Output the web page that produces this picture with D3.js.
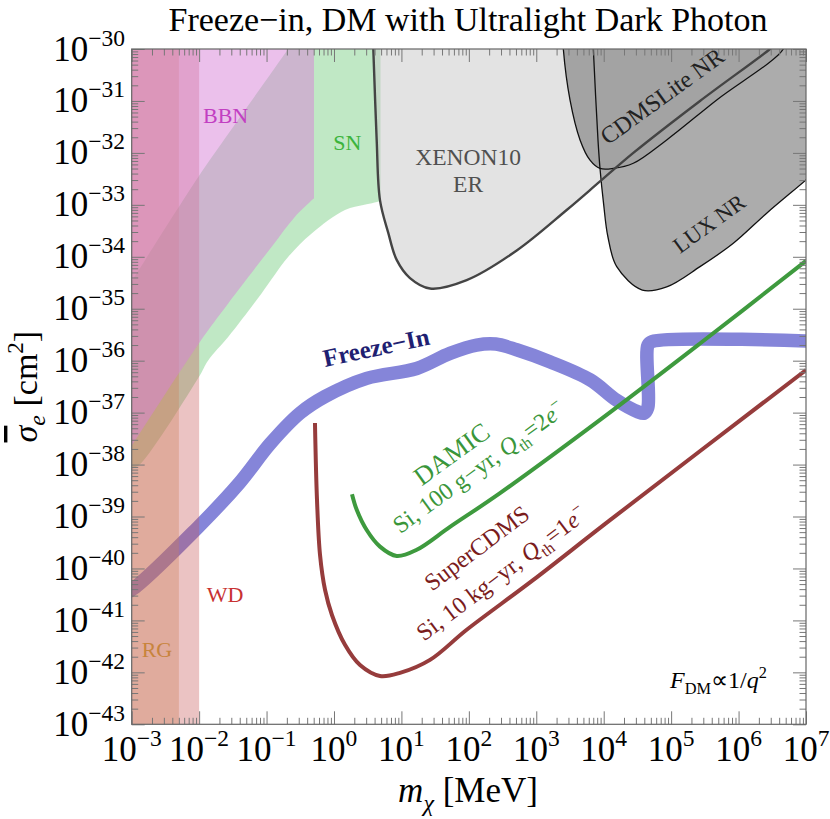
<!DOCTYPE html>
<html lang="en">
<head>
<meta charset="UTF-8">
<title>Freeze-in, DM with Ultralight Dark Photon</title>
<script src="https://cdn.jsdelivr.net/npm/d3@7"></script>
<style>
  body { margin: 0; background: #fff; }
  svg text { font-family: "Liberation Serif", "Times New Roman", serif; }
</style>
</head>
<body>
<div id="chart"></div>
<script>
// tick exponents
const xExps = d3.range(-3, 8);
const yExps = d3.range(-43, -29);

// all curves: [log10(m / MeV), log10(sigma_e / cm^2)]
const snUpper = [[-3.1, -34.68], [-3, -34.47], [-2.8, -34.06], [-2.01, -32.46], [-1.62, -31.73], [-0.68, -30], [-0.6, -29.85]];
const snLower = [[0.69, -32.93], [0.45, -33.0], [0.163, -33.1], [-0.331, -33.55], [-0.678, -34.0], [-1.072, -34.7], [-1.567, -35.54],
                 [-1.864, -35.99], [-2.002, -36.31], [-2.858, -37.97], [-3, -38.1], [-3.1, -38.3]];
const bbnLower = [[-0.296, -32.874], [-0.578, -33.228], [-0.924, -33.806], [-1.567, -34.895], [-2.002, -35.665], [-3, -37.64], [-3.1, -37.84]];
const bbnMax = -0.296;
const snMax = 0.69;
const rgMax = -2.3;
const wdMax = -2;

const xenon10 = [[0.575, -29.8], [0.583, -30], [0.633, -31.75], [0.682, -32.91], [0.805, -33.54], [0.93, -34.06], [1.127, -34.41],
                 [1.424, -34.61], [1.968, -34.45], [2.71, -33.88], [3.451, -33.1], [3.945, -32.55], [4.439, -32.0], [5.428, -31.0],
                 [6.466, -30], [6.55, -29.9]];
const lux = [[3.84, -29.8], [3.846, -30], [3.915, -31.75], [3.945, -32.3], [4.0, -33.0], [4.06, -33.6], [4.193, -34.19], [4.572, -34.64],
             [4.934, -34.58], [5.428, -34.19], [5.922, -33.74], [6.417, -33.16], [7, -32.52], [7.1, -32.4]];
const cdmsLite = [[3.395, -29.8], [3.401, -30], [3.5, -30.98], [3.649, -31.75], [3.797, -32.14], [3.945, -32.3], [4.142, -32.3],
                  [4.439, -32.2], [4.934, -31.75], [5.676, -30.98], [6.663, -30], [6.68, -29.8]];

const freezeIn = [[-3.2, -40.53], [-3, -40.41], [-2.012, -39.2], [-1.4, -38.35], [-0.947, -37.6], [-0.504, -37.01], [-0.133, -36.69],
                  [0.485, -36.34], [1.227, -36.15], [1.72, -35.86], [2.116, -35.7], [2.4, -35.68], [2.71, -35.79], [3.2, -36.02],
                  [3.8, -36.37], [4.19, -36.76], [4.5, -36.98], [4.6, -37.01], [4.655, -36.9], [4.657, -35.7], [4.72, -35.63], [7.2, -35.63]];
const damic = [[0.267, -38.57], [0.337, -38.87], [0.485, -39.26], [0.682, -39.58], [0.93, -39.76], [1.227, -39.64], [1.72, -39.2],
               [2.462, -38.55], [3.945, -37.14], [5.428, -35.67], [7, -34.08]];
const superCdms = [[-0.282, -37.2], [-0.252, -38.68], [-0.207, -39.74], [-0.133, -40.41], [-0.029, -40.9], [0.163, -41.47], [0.386, -41.86],
                   [0.682, -42.07], [0.979, -42.01], [1.424, -41.76], [1.968, -41.18], [2.956, -40.22], [4.093, -39.07], [7, -36.18]];

const width = 830, height = 819;
const box = {left: 131.7, right: 806, top: 49, bottom: 724.3};

const svg = d3.select('#chart').append('svg')
    .attr('width', width)
    .attr('height', height);

const x = d3.scaleLog().domain([1e-3, 1e7]).range([box.left, box.right]);
const y = d3.scaleLog().domain([1e-43, 1e-30]).range([box.bottom, box.top]);
const px = d => x(Math.pow(10, d[0]));
const py = d => y(Math.pow(10, d[1]));

const smooth = d3.line().x(px).y(py).curve(d3.curveCatmullRom.alpha(0.5));
const lineTo = pts => pts.map(d => `L${px(d)},${py(d)}`).join('');
// closed region: smooth curve + straight corners
const region = (curve, corners) => smooth(curve) + lineTo(corners) + 'Z';

svg.append('clipPath').attr('id', 'plot')
    .append('rect').attr('x', box.left).attr('y', box.top)
    .attr('width', box.right - box.left).attr('height', box.bottom - box.top);

const g = svg.append('g').attr('clip-path', 'url(#plot)');

// Freeze-in band (under the bounds)
g.append('path')
    .attr('d', smooth(freezeIn))
    .attr('fill', 'none')
    .attr('stroke', '#8585d9')
    .attr('stroke-width', 13.5)
    .attr('stroke-linejoin', 'round');

// SN
g.append('path')
    .attr('d', smooth(snUpper) + lineTo([[snMax, -29.85]]) + smooth(snLower).replace('M', 'L') + 'Z')
    .attr('fill', 'rgb(130,210,140)').attr('fill-opacity', 0.5);

// RG, WD
g.append('path')
    .attr('d', 'M' + lineTo([[-3.1, -29.8], [rgMax, -29.8], [rgMax, -43.2], [-3.1, -43.2]]).slice(1) + 'Z')
    .attr('fill', 'rgb(210,150,90)').attr('fill-opacity', 0.35);
g.append('path')
    .attr('d', 'M' + lineTo([[-3.1, -29.8], [wdMax, -29.8], [wdMax, -43.2], [-3.1, -43.2]]).slice(1) + 'Z')
    .attr('fill', 'rgb(198,84,84)').attr('fill-opacity', 0.35);

// BBN
g.append('path')
    .attr('d', region(bbnLower, [[-3.1, -29.8], [bbnMax, -29.8]]))
    .attr('fill', 'rgb(215,130,215)').attr('fill-opacity', 0.5);

// direct detection regions
g.append('path')
    .attr('d', region(xenon10, []))
    .attr('fill', 'rgb(200,200,200)').attr('fill-opacity', 0.5);
g.append('path')
    .attr('d', region(lux, [[7.1, -29.8]]))
    .attr('fill', '#acacac');
g.append('path')
    .attr('d', region(cdmsLite, []))
    .attr('fill', '#a3a3a3');

[lux, cdmsLite].forEach(c => {
    g.append('path').attr('d', smooth(c))
        .attr('fill', 'none').attr('stroke', '#111').attr('stroke-width', 1.3);
});
g.append('path').attr('d', smooth(xenon10))
    .attr('fill', 'none').attr('stroke', '#444').attr('stroke-width', 2.4);

// projections
g.append('path').attr('d', smooth(damic))
    .attr('fill', 'none').attr('stroke', '#3e9a3e').attr('stroke-width', 4);
g.append('path').attr('d', smooth(superCdms))
    .attr('fill', 'none').attr('stroke', '#963c3c').attr('stroke-width', 4);

// ticks
const minor = exps => d3.merge(exps.slice(0, -1).map(e => d3.range(2, 10).map(m => m * Math.pow(10, e))));
const xMaj = xExps.map(e => Math.pow(10, e)), yMaj = yExps.map(e => Math.pow(10, e));
const tickAxes = [
    [d3.axisBottom, x, xMaj, minor(xExps), `translate(0,${box.bottom})`],
    [d3.axisTop, x, xMaj, minor(xExps), `translate(0,${box.top})`],
    [d3.axisLeft, y, yMaj, minor(yExps), `translate(${box.left},0)`],
    [d3.axisRight, y, yMaj, minor(yExps), `translate(${box.right},0)`]
];
tickAxes.forEach(([ax, sc, maj, mnr, tr]) => {
    [[maj, 13], [mnr, 6.5]].forEach(([vals, len]) => {
        svg.append('g').attr('transform', tr)
            .call(ax(sc).tickValues(vals).tickSize(-len).tickSizeOuter(0).tickFormat(''))
            .call(a => a.select('.domain').remove())
            .call(a => a.selectAll('.tick line').attr('stroke', '#777').attr('stroke-width', 1));
    });
});

svg.append('rect')
    .attr('x', box.left).attr('y', box.top).attr('width', box.right - box.left).attr('height', box.bottom - box.top)
    .attr('fill', 'none').attr('stroke', '#666').attr('stroke-width', 1.2);

// rich text helper: parts = [text, kind]; kind: '', 'i', 'sub', 'sup', 'isub'
function rich(sel, parts, size) {
    let off = 0;
    parts.forEach(([s, k]) => {
        const small = k.endsWith('sub') || k.endsWith('sup');
        const target = k.endsWith('sub') ? size * 0.25 : k.endsWith('sup') ? -size * 0.42 : 0;
        sel.append('tspan')
            .attr('dy', target - off)
            .attr('font-size', small ? size * 0.68 : size)
            .attr('font-style', k.startsWith('i') ? 'italic' : null)
            .text(s);
        off = target;
    });
    return sel;
}

// tick labels
xExps.forEach(e => {
    const t = svg.append('text').attr('x', x(Math.pow(10, e))).attr('y', 761)
        .attr('text-anchor', 'middle').attr('font-size', 35).attr('fill', '#000');
    t.append('tspan').text('10');
    t.append('tspan').attr('font-size', 23.5).attr('dy', -15).text(String(e).replace('-', '\u2212'));
});
yExps.forEach(e => {
    const t = svg.append('text').attr('x', 125).attr('y', y(Math.pow(10, e)) + 11.5)
        .attr('text-anchor', 'end').attr('font-size', 35).attr('fill', '#000');
    t.append('tspan').text('10');
    t.append('tspan').attr('font-size', 23.5).attr('dy', -15).text(String(e).replace('-', '\u2212'));
});

// titles
svg.append('text').attr('x', 468).attr('y', 30.5).attr('text-anchor', 'middle')
    .attr('font-size', 34).text('Freeze\u2212in, DM with Ultralight Dark Photon');

const xt = svg.append('text').attr('x', 468).attr('y', 802).attr('text-anchor', 'middle');
rich(xt, [['m', 'i'], ['\u03c7', 'isub'], [' [MeV]', '']], 35);

const yt = svg.append('text').attr('transform', `translate(37,${(box.top + box.bottom) / 2}) rotate(-90)`).attr('text-anchor', 'middle');
yt.append('tspan').attr('font-size', 34).attr('font-style', 'italic').attr('text-decoration', 'overline').text('\u03c3');
yt.append('tspan').attr('font-size', 24).attr('font-style', 'italic').attr('dy', 8).text('e');
yt.append('tspan').attr('font-size', 34).attr('dy', -8).text(' [cm');
yt.append('tspan').attr('font-size', 23).attr('dy', -14).text('2');
yt.append('tspan').attr('font-size', 34).attr('dy', 14).text(']');

// region labels
const label = (lm, ls, txt, color, size, rot, anchor) => svg.append('text')
    .attr('transform', `translate(${x(Math.pow(10, lm))},${y(Math.pow(10, ls))}) rotate(${rot || 0})`)
    .attr('text-anchor', anchor || 'start')
    .attr('font-size', size).attr('fill', color).text(txt);

label(-1.943, -31.42, 'BBN', '#c23fc2', 22);
label(-0.01, -31.94, 'SN', '#3cb43c', 22);
label(1.988, -32.23, 'XENON10', '#505050', 23.5, 0, 'middle');
label(1.988, -32.75, 'ER', '#505050', 23.5, 0, 'middle');
label(-2.852, -41.7, 'RG', '#c8843c', 22);
label(-1.888, -40.64, 'WD', '#c83232', 22);
label(4.06, -31.86, 'CDMSLite NR', '#222', 24, -36);
label(5.13, -33.95, 'LUX NR', '#222', 22.5, -36);
label(-0.133, -36.12, 'Freeze\u2212In', '#1f1f72', 25, -12).attr('font-weight', 'bold');
label(1.3, -38.42, 'DAMIC', '#3a963a', 26, -36);
label(1.454, -40.45, 'SuperCDMS', '#7a1c1c', 24, -37);

const dm1 = svg.append('text').attr('fill', '#3a963a')
    .attr('transform', `translate(${x(Math.pow(10, 0.982))},${y(Math.pow(10, -39.34))}) rotate(-36)`);
rich(dm1, [['Si, 100 g\u2212yr, ', ''], ['Q', 'i'], ['th', 'sub'], ['=2', ''], ['e', 'i'], ['\u2212', 'sup']], 24);

const sc1 = svg.append('text').attr('fill', '#7a1c1c')
    .attr('transform', `translate(${x(Math.pow(10, 1.335))},${y(Math.pow(10, -41.41))}) rotate(-37)`);
rich(sc1, [['Si, 10 kg\u2212yr, ', ''], ['Q', 'i'], ['th', 'sub'], ['=1', ''], ['e', 'i'], ['\u2212', 'sup']], 24);

const ff = svg.append('text').attr('fill', '#000')
    .attr('transform', `translate(${x(Math.pow(10, 4.984))},${y(Math.pow(10, -42.3))})`);
rich(ff, [['F', 'i'], ['DM', 'sub'], ['\u221d1/', ''], ['q', 'i'], ['2', 'sup']], 24);
</script>
</body>
</html>
